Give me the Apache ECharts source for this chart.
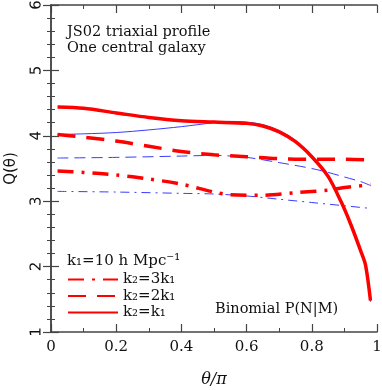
<!DOCTYPE html>
<html><head><meta charset="utf-8">
<script src="https://cdn.jsdelivr.net/npm/echarts@6/dist/echarts.min.js"></script>
<style>html,body{margin:0;padding:0;background:#fff}#c{width:382px;height:390px}</style>
</head><body><div id="c"></div>
<script>
// theta/pi positions and Q(theta) values
const xRedSolid = [0.02,0.1,0.2,0.3,0.4,0.5,0.6,0.65,0.7,0.75,0.8,0.85,0.89,0.92,0.95,0.965,0.98];
const yRedSolid = [4.44,4.42,4.35,4.28,4.23,4.21,4.19,4.15,4.06,3.91,3.68,3.38,2.99,2.64,2.24,2.02,1.48];
const xBlueSolid = [0.02,0.1,0.2,0.3,0.4,0.5,0.55,0.6,0.65,0.7,0.75,0.8,0.85,0.89,0.92,0.95,0.965,0.98];
const yBlueSolid = [4.02,4.03,4.05,4.09,4.14,4.20,4.22,4.21,4.17,4.08,3.93,3.69,3.38,2.99,2.64,2.24,2.02,1.46];
const xRedDash = [0.02,0.1,0.2,0.3,0.4,0.5,0.6,0.7,0.8,0.9,0.98];
const yRedDash = [4.02,3.98,3.92,3.84,3.76,3.71,3.68,3.65,3.64,3.64,3.63];
const xBlueDash = [0.02,0.2,0.4,0.5,0.6,0.7,0.8,0.85,0.9,0.95,0.98];
const yBlueDash = [3.66,3.67,3.69,3.70,3.67,3.59,3.50,3.44,3.37,3.30,3.24];
const xRedDashDot = [0.02,0.1,0.2,0.3,0.4,0.5,0.55,0.65,0.75,0.85,0.9,0.98];
const yRedDashDot = [3.46,3.44,3.40,3.34,3.26,3.14,3.10,3.09,3.13,3.17,3.21,3.25];
const xBlueDashDot = [0.02,0.2,0.4,0.5,0.6,0.7,0.8,0.9,0.98];
const yBlueDashDot = [3.15,3.14,3.12,3.11,3.08,3.03,2.98,2.93,2.89];
const xTicks = [0,0.2,0.4,0.6,0.8,1];
const yTicks = [1,2,3,4,5,6];
const legendNames = ['k\u2082=3k\u2081','k\u2082=2k\u2081','k\u2082=k\u2081'];

const pairs = (xs, ys) => xs.map((x,i)=>[x, ys[i]]);
const RED = '#ff0000', BLUE = '#3a3aff', AX = '#444';
const serif = 'DejaVu Serif';

function minor(n){ return {show:true, splitNumber:n, length:4, lineStyle:{color:AX,width:1}}; }
const axLine = {show:true, lineStyle:{color:AX,width:1.5}};
const axTick = {show:true, inside:true, length:8, lineStyle:{color:AX,width:1.2}};

const chart = echarts.init(document.getElementById('c'), null, {renderer:'canvas'});
chart.setOption({
  animation:false,
  backgroundColor:'#fff',
  grid:{left:51, right:5, top:5, bottom:58, containLabel:false, outerBoundsMode:'none'},
  xAxis:[
    {type:'value', min:0, max:1, interval:0.2, position:'bottom',
      axisLine:axLine, axisTick:axTick, minorTick:minor(2), splitLine:{show:false},
      axisLabel:{show:true, margin:8, fontFamily:serif, fontSize:15, color:'#111',
        formatter:v=>{const t=xTicks.find(k=>Math.abs(k-v)<1e-6); return t===undefined?'':(t===0||t===1?String(t):t.toFixed(1));}},
      name:'\u03b8/\u03c0', nameLocation:'middle', nameGap:40,
      nameTextStyle:{fontFamily:serif, fontStyle:'italic', fontSize:16, color:'#111'}},
    {type:'value', min:0, max:1, interval:0.2, position:'top',
      axisLine:axLine, axisTick:axTick, minorTick:minor(2), splitLine:{show:false}, axisLabel:{show:false}}
  ],
  yAxis:[
    {type:'value', min:1, max:6, interval:1, position:'left',
      axisLine:axLine, axisTick:axTick, minorTick:minor(5), splitLine:{show:false},
      axisLabel:{show:true, rotate:89.9, align:'center', verticalAlign:'bottom', margin:7,
        fontFamily:'DejaVu Sans', fontSize:15, color:'#111',
        formatter:v=>{const t=yTicks.find(k=>Math.abs(k-v)<1e-6); return t===undefined?'':String(t);}},
      name:'Q(\u03b8)', nameLocation:'middle', nameGap:32, nameRotate:90,
      nameTextStyle:{fontFamily:'DejaVu Sans', fontSize:15, color:'#111'}},
    {type:'value', min:1, max:6, interval:1, position:'right',
      axisLine:axLine, axisTick:axTick, minorTick:minor(5), splitLine:{show:false}, axisLabel:{show:false}}
  ],
  legend:{
    show:true, orient:'vertical', left:67, top:272, padding:0, itemWidth:50, itemHeight:14, itemGap:1.5,
    data:legendNames,
    textStyle:{fontFamily:serif, fontSize:15, color:'#111'},
    lineStyle:{width:2}, itemStyle:{opacity:0}
  },
  graphic:[
    {type:'text', left:67, top:25, style:{text:'JS02 triaxial profile', font:'14.5px "DejaVu Serif"', fill:'#111'}},
    {type:'text', left:67, top:41, style:{text:'One central galaxy', font:'14.5px "DejaVu Serif"', fill:'#111'}},
    {type:'text', left:67, top:254, style:{text:'k\u2081=10 h Mpc\u207b\u00b9', font:'15px "DejaVu Serif"', fill:'#111'}},
    {type:'text', left:215, top:302, style:{text:'Binomial P(N|M)', font:'14.5px "DejaVu Serif"', fill:'#111'}}
  ],
  series:[
    {name:legendNames[2], type:'line', data:pairs(xRedSolid,yRedSolid), smooth:0.3, symbol:'none', z:3,
      lineStyle:{color:RED, width:3.5}, itemStyle:{color:RED}},
    {name:legendNames[1], type:'line', data:pairs(xRedDash,yRedDash), smooth:0.3, symbol:'none', z:3,
      lineStyle:{color:RED, width:3.5, type:[18,11]}, itemStyle:{color:RED}},
    {name:legendNames[0], type:'line', data:pairs(xRedDashDot,yRedDashDot), smooth:0.3, symbol:'none', z:3,
      lineStyle:{color:RED, width:3.5, type:[16,8,3,8]}, itemStyle:{color:RED}},
    {type:'line', data:pairs(xBlueSolid,yBlueSolid), smooth:0.3, symbol:'none', z:2,
      lineStyle:{color:BLUE, width:1}},
    {type:'line', data:pairs(xBlueDash,yBlueDash), smooth:0.3, symbol:'none', z:2,
      lineStyle:{color:BLUE, width:1, type:[11,6]}},
    {type:'line', data:pairs(xBlueDashDot,yBlueDashDot), smooth:0.3, symbol:'none', z:2,
      lineStyle:{color:BLUE, width:1, type:[9,5,2,5]}}
  ]
});
</script></body></html>
